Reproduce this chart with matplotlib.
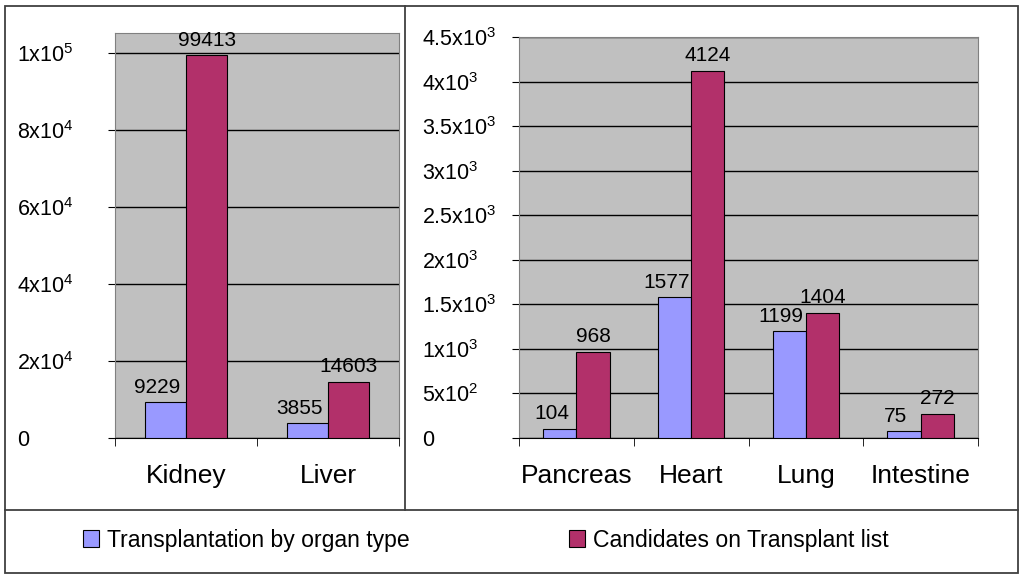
import matplotlib
matplotlib.use("Agg")
import matplotlib.pyplot as plt
from matplotlib.lines import Line2D
from matplotlib.patches import Rectangle
import numpy as np

plt.rcParams['font.family'] = ['Liberation Sans', 'DejaVu Sans']
plt.rcParams['mathtext.fontset'] = 'custom'
plt.rcParams['mathtext.rm'] = 'Liberation Sans'

# data
big_organs = ["Kidney", "Liver"]
big_transplants = [9229, 3855]
big_candidates = [99413, 14603]

small_organs = ["Pancreas", "Heart", "Lung", "Intestine"]
small_transplants = [104, 1577, 1199, 75]
small_candidates = [968, 4124, 1404, 272]

big_ticks = [0, 20000, 40000, 60000, 80000, 100000]
big_ticklabels = ["0", r"$\mathregular{2x10^4}$", r"$\mathregular{4x10^4}$",
                  r"$\mathregular{6x10^4}$", r"$\mathregular{8x10^4}$", r"$\mathregular{1x10^5}$"]
small_ticks = [0, 500, 1000, 1500, 2000, 2500, 3000, 3500, 4000, 4500]
small_ticklabels = ["0", r"$\mathregular{5x10^2}$", r"$\mathregular{1x10^3}$",
                    r"$\mathregular{1.5x10^3}$", r"$\mathregular{2x10^3}$", r"$\mathregular{2.5x10^3}$",
                    r"$\mathregular{3x10^3}$", r"$\mathregular{3.5x10^3}$", r"$\mathregular{4x10^3}$",
                    r"$\mathregular{4.5x10^3}$"]

series_labels = ["Transplantation by organ type", "Candidates on Transplant list"]
colors = ["#9999ff", "#b2306a"]

W, H = 1024, 578


def draw_panel(ax, organs, transplants, candidates, ymax, ticks, ticklabels, label_pad):
  x = np.arange(len(organs))
  w = 0.29
  b1 = ax.bar(x - w / 2, transplants, w, color=colors[0], edgecolor='black', linewidth=0.8,
              label=series_labels[0], zorder=3)
  b2 = ax.bar(x + w / 2, candidates, w, color=colors[1], edgecolor='black', linewidth=0.8,
              label=series_labels[1], zorder=3)
  # blue labels nudged left a bit so they don't run into the red ones
  for bars, dx in ((b1, -6), (b2, 0)):
    for rect in bars:
      ax.annotate(f"{int(rect.get_height())}",
                  (rect.get_x() + rect.get_width() / 2, rect.get_height()),
                  xytext=(dx, 4), textcoords='offset points', ha='center', va='bottom',
                  fontsize=15, zorder=4)
  ax.set_facecolor('#c0c0c0')
  ax.set_xlim(-0.5, len(organs) - 0.5)
  ax.set_ylim(0, ymax)
  ax.set_xticks(x)
  ax.set_xticklabels(organs, fontsize=19)
  ax.set_xticks(np.arange(len(organs) + 1) - 0.5, minor=True)
  ax.tick_params(axis='x', which='major', length=0, pad=19)
  ax.tick_params(axis='x', which='minor', length=6, direction='out', color='black')
  ax.set_yticks(ticks)
  ax.set_yticklabels(ticklabels, fontsize=15.5, ha='left')
  ax.tick_params(axis='y', length=5, pad=label_pad, color='black')
  ax.yaxis.grid(True, color='black', linewidth=1)
  ax.set_axisbelow(True)
  for s in ['left', 'right', 'top']:
    ax.spines[s].set_color('#808080')
  ax.spines['bottom'].set_color('black')
  return b1, b2


fig = plt.figure(figsize=(W / 100, H / 100), dpi=100)
ax1 = fig.add_axes([115 / W, 1 - 438 / H, 284 / W, 405 / H])
ax2 = fig.add_axes([519 / W, 1 - 438 / H, 459 / W, 401 / H])

h1, h2 = draw_panel(ax1, big_organs, big_transplants, big_candidates, 105200,
                    big_ticks, big_ticklabels, 65.5)
draw_panel(ax2, small_organs, small_transplants, small_candidates, 4500,
           small_ticks, small_ticklabels, 64.8)

# frame and dividers
line_kw = dict(color='#404040', linewidth=1.3, transform=fig.transFigure)
fig.add_artist(Rectangle((5 / W, 1 - 573 / H), 1013 / W, 567 / H, fill=False,
                         edgecolor='#404040', linewidth=1.3, transform=fig.transFigure))
fig.add_artist(Line2D([5 / W, 1018 / W], [1 - 510 / H, 1 - 510 / H], **line_kw))
fig.add_artist(Line2D([405 / W, 405 / W], [1 - 510 / H, 1 - 6 / H], **line_kw))

fig.legend(handles=[h1, h2], labels=series_labels, loc='center left',
           bbox_to_anchor=(83 / W, 1 - 540 / H), ncol=2, frameon=False, fontsize=16.6,
           handlelength=0.7, handleheight=0.7, handletextpad=0.35, columnspacing=6.9,
           borderpad=0, borderaxespad=0)

fig.savefig("out.png", dpi=100)
